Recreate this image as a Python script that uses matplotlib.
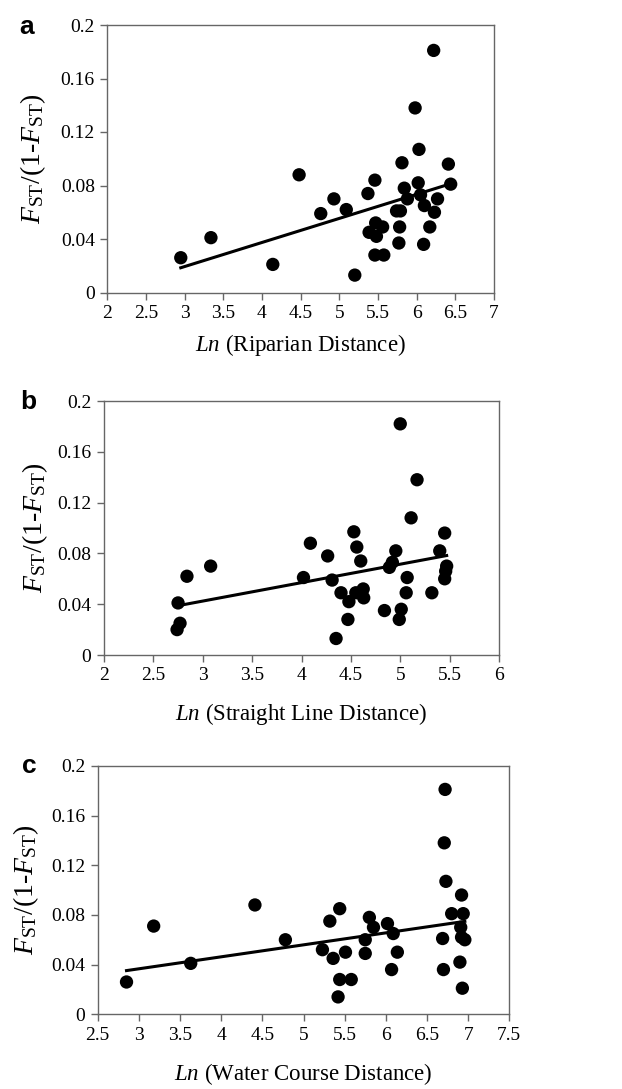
import matplotlib
matplotlib.use("Agg")
import matplotlib.pyplot as plt
import numpy as np
from matplotlib.ticker import FuncFormatter

plt.rcParams['font.family'] = ['Liberation Serif', 'DejaVu Serif']
plt.rcParams['mathtext.fontset'] = 'custom'
plt.rcParams['mathtext.rm'] = 'Liberation Serif'
plt.rcParams['mathtext.it'] = 'Liberation Serif:italic'

# ---- data ----
xa = [2.95, 3.34, 4.14, 4.48, 4.76, 4.93, 5.09, 5.20, 5.37, 5.46, 5.385, 5.47,
      5.48, 5.56, 5.46, 5.575, 5.74, 5.79, 5.78, 5.77, 5.81, 5.84, 5.88, 5.98,
      6.03, 6.02, 6.05, 6.10, 6.09, 6.17, 6.22, 6.23, 6.27, 6.41, 6.44]
ya = [0.026, 0.041, 0.021, 0.088, 0.059, 0.070, 0.062, 0.013, 0.074, 0.084, 0.045, 0.052,
      0.042, 0.049, 0.028, 0.028, 0.061, 0.061, 0.049, 0.037, 0.097, 0.078, 0.070, 0.138,
      0.107, 0.082, 0.073, 0.065, 0.036, 0.049, 0.181, 0.060, 0.070, 0.096, 0.081]

xb = [2.75, 2.74, 2.77, 2.84, 3.08, 4.02, 4.09, 4.265, 4.31, 4.35, 4.40, 4.48,
      4.47, 4.56, 4.53, 4.60, 4.55, 4.625, 4.63, 4.84, 4.89, 4.92, 4.955, 4.99,
      5.01, 5.06, 5.07, 5.00, 5.17, 5.11, 5.32, 5.40, 5.45, 5.45, 5.46, 5.47]
yb = [0.041, 0.020, 0.025, 0.062, 0.070, 0.061, 0.088, 0.078, 0.059, 0.013, 0.049, 0.042,
      0.028, 0.085, 0.097, 0.074, 0.049, 0.052, 0.045, 0.035, 0.069, 0.073, 0.082, 0.028,
      0.036, 0.049, 0.061, 0.182, 0.138, 0.108, 0.049, 0.082, 0.096, 0.060, 0.066, 0.070]

xc = [2.85, 3.18, 3.63, 4.41, 4.78, 5.23, 5.32, 5.36, 5.44, 5.44, 5.42, 5.51,
      5.58, 5.75, 5.75, 5.80, 5.85, 6.02, 6.09, 6.07, 6.14, 6.72, 6.71, 6.73,
      6.92, 6.80, 6.94, 6.91, 6.92, 6.96, 6.69, 6.90, 6.70, 6.93]
yc = [0.026, 0.071, 0.041, 0.088, 0.060, 0.052, 0.075, 0.045, 0.085, 0.028, 0.014, 0.050,
      0.028, 0.060, 0.049, 0.078, 0.070, 0.073, 0.065, 0.036, 0.050, 0.181, 0.138, 0.107,
      0.096, 0.081, 0.081, 0.070, 0.062, 0.060, 0.061, 0.042, 0.036, 0.021]

# trend lines (slope, intercept)
trend_a = (0.0180, -0.0346)
trend_b = (0.01452, -0.0011)
trend_c = (0.00964, 0.0077)

panel_letters = ['a', 'b', 'c']
xlabels = ['$Ln$ (Riparian Distance)', '$Ln$ (Straight Line Distance)',
           '$Ln$ (Water Course Distance)']
ylabel = r'$F_{\mathrm{ST}}$/(1-$F_{\mathrm{ST}}$)'
xlims = [(2, 7), (2, 6), (2.5, 7.5)]
yticks = [0, 0.04, 0.08, 0.12, 0.16, 0.2]

# ---- layout (figure fractions) ----
W, H = 622, 1089
boxes = [(107.3, 25, 494, 292.5), (104, 401, 499, 655), (97.7, 765.8, 509.3, 1014.3)]
ylab_x = [33, 35, 26]
xlab_top = [332, 701, 1061]
letter_pos = [(27, 27), (28, 402), (29, 766)]

fig = plt.figure(figsize=(W / 100, H / 100), dpi=100)

datasets = [(xa, ya, trend_a), (xb, yb, trend_b), (xc, yc, trend_c)]
spine_col = '#666666'
for i, ((x, y, tr), box) in enumerate(zip(datasets, boxes)):
    l, t, r, b = box
    ax = fig.add_axes([l / W, 1 - b / H, (r - l) / W, (b - t) / H])
    ax.scatter(x, y, s=92, color='black', edgecolors='none', zorder=3)
    xs = np.array([min(x), max(x)])
    ax.plot(xs, tr[0] * xs + tr[1], color='black', lw=2.2, zorder=2)
    ax.set_xlim(*xlims[i])
    ax.set_ylim(0, 0.2)
    step = 0.5
    ax.set_xticks(np.arange(xlims[i][0], xlims[i][1] + 0.01, step))
    ax.set_yticks(yticks)
    ax.xaxis.set_major_formatter(FuncFormatter(lambda v, p: '%g' % v))
    ax.yaxis.set_major_formatter(FuncFormatter(lambda v, p: '%g' % round(v, 2)))
    ax.tick_params(axis='both', direction='out', length=5, width=1.0,
                   color=spine_col, labelsize=14, pad=4)
    for sp in ax.spines.values():
        sp.set_color(spine_col)
        sp.set_linewidth(1.0)
    ax.set_xlabel(xlabels[i], fontsize=16.5)
    ax.set_ylabel(ylabel, fontsize=20)
    ax.xaxis.set_label_coords(0.5, -(xlab_top[i] - b) / (b - t))
    ax.xaxis.label.set_va('top')
    ax.yaxis.set_label_coords((ylab_x[i] - l) / (r - l), 0.5)
    ax.yaxis.label.set_va('center')
    lx, ly = letter_pos[i]
    fig.text(lx / W, 1 - ly / H, panel_letters[i], fontsize=19, fontweight='bold',
             family=['Liberation Sans', 'DejaVu Sans'], ha='center', va='center')

fig.savefig('out.png', dpi=100, facecolor='white')
